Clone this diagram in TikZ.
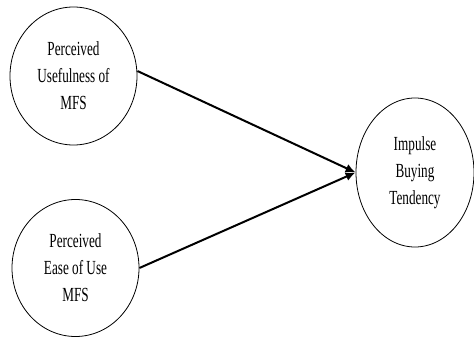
\documentclass[tikz,border=0pt]{standalone}
\usepackage{fontspec}
\setmainfont{Liberation Serif}[FakeStretch=0.66]
\usetikzlibrary{positioning}
\usetikzlibrary{shapes.geometric, arrows.meta}

\tikzset{
  construct/.style={draw, shape=ellipse, thick, inner sep=0pt, align=center,
    font=\fontsize{20}{27}\selectfont},
  path/.style={line width=2pt, -{Latex[length=10pt,width=9pt]}}
}

\begin{document}
\begin{tikzpicture}[x=1pt, y=1pt]
\useasboundingbox (0,0) rectangle (474,338);
\node[construct, minimum width=127pt, minimum height=138pt] (useful) at (73.5,262) {Perceived\\Usefulness of\\MFS};
\node[construct, minimum width=127pt, minimum height=137pt] (ease) at (75.5,70) {Perceived\\Ease of Use\\MFS};
\node[construct, minimum width=118pt, minimum height=149pt] (impulse) at (415,165.5) {Impulse\\Buying\\Tendency};
  \draw[path] (useful.east) ++(0,5) -- (impulse.west);
  \draw[path] (ease.east) -- (impulse.west);
\end{tikzpicture}
\end{document}
